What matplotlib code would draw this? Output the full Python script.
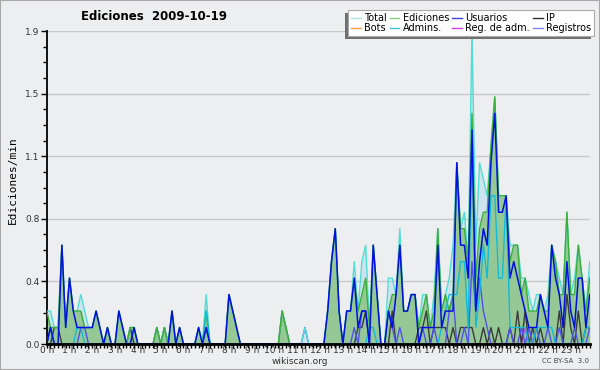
import numpy as np
import matplotlib
matplotlib.use('Agg')
import matplotlib.pyplot as plt
from matplotlib.transforms import IdentityTransform
from matplotlib.ticker import FixedLocator, MultipleLocator

# 10-minute bins over the day (144 bins), values in edits/min
hour_labels = ['%d h' % h for h in range(24)]

total = [0.2, 0.2, 0.1, 0.1, 0.6, 0.1, 0.4, 0.2, 0.2, 0.3, 0.2, 0.1,
         0.1, 0.2, 0.1, 0.0, 0.1, 0.0, 0.0, 0.2, 0.1, 0.0, 0.1, 0.1,
         0.0, 0.0, 0.0, 0.0, 0.0, 0.1, 0.0, 0.1, 0.0, 0.2, 0.0, 0.1,
         0.0, 0.0, 0.0, 0.0, 0.1, 0.0, 0.3, 0.0, 0.0, 0.0, 0.0, 0.0,
         0.3, 0.2, 0.1, 0.0, 0.0, 0.0, 0.0, 0.0, 0.0, 0.0, 0.0, 0.0,
         0.0, 0.0, 0.2, 0.1, 0.0, 0.0, 0.0, 0.0, 0.1, 0.0, 0.0, 0.0,
         0.0, 0.0, 0.2, 0.5, 0.7, 0.2, 0.0, 0.2, 0.2, 0.5, 0.2, 0.5,
         0.6, 0.1, 0.6, 0.3, 0.0, 0.0, 0.4, 0.4, 0.3, 0.7, 0.2, 0.2,
         0.3, 0.3, 0.1, 0.3, 0.3, 0.1, 0.3, 0.7, 0.2, 0.3, 0.4, 0.6,
         1.1, 0.7, 0.8, 0.5, 1.9, 0.6, 1.1, 1.0, 0.9, 1.2, 1.5, 0.9,
         0.9, 0.9, 0.6, 0.6, 0.6, 0.4, 0.4, 0.3, 0.2, 0.3, 0.3, 0.2,
         0.3, 0.6, 0.5, 0.4, 0.3, 0.8, 0.3, 0.4, 0.6, 0.4, 0.2, 0.5]

ediciones = [0.2, 0.1, 0.1, 0.1, 0.6, 0.1, 0.4, 0.2, 0.2, 0.2, 0.1, 0.1,
             0.1, 0.2, 0.1, 0.0, 0.1, 0.0, 0.0, 0.2, 0.1, 0.0, 0.1, 0.1,
             0.0, 0.0, 0.0, 0.0, 0.0, 0.1, 0.0, 0.1, 0.0, 0.2, 0.0, 0.1,
             0.0, 0.0, 0.0, 0.0, 0.1, 0.0, 0.2, 0.0, 0.0, 0.0, 0.0, 0.0,
             0.3, 0.2, 0.1, 0.0, 0.0, 0.0, 0.0, 0.0, 0.0, 0.0, 0.0, 0.0,
             0.0, 0.0, 0.2, 0.1, 0.0, 0.0, 0.0, 0.0, 0.0, 0.0, 0.0, 0.0,
             0.0, 0.0, 0.2, 0.5, 0.7, 0.2, 0.0, 0.2, 0.2, 0.4, 0.2, 0.3,
             0.4, 0.1, 0.6, 0.3, 0.0, 0.0, 0.2, 0.3, 0.3, 0.6, 0.2, 0.2,
             0.3, 0.3, 0.1, 0.2, 0.3, 0.1, 0.2, 0.7, 0.2, 0.3, 0.2, 0.3,
             1.1, 0.7, 0.7, 0.5, 1.4, 0.4, 0.7, 0.8, 0.8, 1.2, 1.5, 0.9,
             0.9, 0.9, 0.5, 0.6, 0.6, 0.3, 0.4, 0.2, 0.2, 0.2, 0.3, 0.2,
             0.2, 0.6, 0.5, 0.3, 0.3, 0.8, 0.3, 0.3, 0.6, 0.4, 0.2, 0.4]

usuarios = [0.0, 0.1, 0.0, 0.0, 0.6, 0.1, 0.4, 0.2, 0.1, 0.1, 0.1, 0.1,
            0.1, 0.2, 0.1, 0.0, 0.1, 0.0, 0.0, 0.2, 0.1, 0.0, 0.0, 0.1,
            0.0, 0.0, 0.0, 0.0, 0.0, 0.0, 0.0, 0.0, 0.0, 0.2, 0.0, 0.1,
            0.0, 0.0, 0.0, 0.0, 0.1, 0.0, 0.1, 0.0, 0.0, 0.0, 0.0, 0.0,
            0.3, 0.2, 0.1, 0.0, 0.0, 0.0, 0.0, 0.0, 0.0, 0.0, 0.0, 0.0,
            0.0, 0.0, 0.0, 0.0, 0.0, 0.0, 0.0, 0.0, 0.0, 0.0, 0.0, 0.0,
            0.0, 0.0, 0.2, 0.5, 0.7, 0.2, 0.0, 0.2, 0.2, 0.4, 0.1, 0.2,
            0.2, 0.0, 0.6, 0.3, 0.0, 0.0, 0.2, 0.1, 0.3, 0.6, 0.2, 0.2,
            0.3, 0.3, 0.0, 0.1, 0.1, 0.1, 0.1, 0.6, 0.1, 0.2, 0.2, 0.2,
            1.1, 0.6, 0.6, 0.4, 1.3, 0.2, 0.5, 0.7, 0.6, 1.1, 1.4, 0.8,
            0.8, 0.9, 0.4, 0.5, 0.4, 0.3, 0.2, 0.1, 0.1, 0.1, 0.3, 0.2,
            0.1, 0.6, 0.4, 0.3, 0.1, 0.5, 0.2, 0.1, 0.4, 0.4, 0.1, 0.3]

ip = [0.0, 0.0, 0.1, 0.1, 0.0, 0.0, 0.0, 0.0, 0.0, 0.0, 0.0, 0.0,
      0.0, 0.0, 0.0, 0.0, 0.0, 0.0, 0.0, 0.0, 0.0, 0.0, 0.1, 0.0,
      0.0, 0.0, 0.0, 0.0, 0.0, 0.1, 0.0, 0.1, 0.0, 0.0, 0.0, 0.0,
      0.0, 0.0, 0.0, 0.0, 0.0, 0.0, 0.0, 0.0, 0.0, 0.0, 0.0, 0.0,
      0.0, 0.0, 0.0, 0.0, 0.0, 0.0, 0.0, 0.0, 0.0, 0.0, 0.0, 0.0,
      0.0, 0.0, 0.2, 0.1, 0.0, 0.0, 0.0, 0.0, 0.0, 0.0, 0.0, 0.0,
      0.0, 0.0, 0.0, 0.0, 0.0, 0.0, 0.0, 0.0, 0.0, 0.0, 0.1, 0.1,
      0.2, 0.0, 0.0, 0.0, 0.0, 0.0, 0.0, 0.2, 0.0, 0.0, 0.0, 0.0,
      0.0, 0.0, 0.1, 0.1, 0.2, 0.0, 0.1, 0.1, 0.1, 0.1, 0.0, 0.1,
      0.0, 0.1, 0.1, 0.1, 0.1, 0.0, 0.0, 0.1, 0.0, 0.1, 0.0, 0.1,
      0.0, 0.0, 0.1, 0.0, 0.2, 0.0, 0.2, 0.0, 0.1, 0.0, 0.1, 0.0,
      0.0, 0.0, 0.0, 0.2, 0.0, 0.3, 0.1, 0.0, 0.2, 0.0, 0.1, 0.1]

admins = [0.0, 0.0, 0.0, 0.0, 0.0, 0.0, 0.0, 0.0, 0.1, 0.1, 0.0, 0.0,
          0.0, 0.0, 0.0, 0.0, 0.0, 0.0, 0.0, 0.0, 0.0, 0.0, 0.0, 0.0,
          0.0, 0.0, 0.0, 0.0, 0.0, 0.0, 0.0, 0.0, 0.0, 0.0, 0.0, 0.0,
          0.0, 0.0, 0.0, 0.0, 0.0, 0.0, 0.2, 0.0, 0.0, 0.0, 0.0, 0.0,
          0.0, 0.0, 0.0, 0.0, 0.0, 0.0, 0.0, 0.0, 0.0, 0.0, 0.0, 0.0,
          0.0, 0.0, 0.0, 0.0, 0.0, 0.0, 0.0, 0.0, 0.0, 0.0, 0.0, 0.0,
          0.0, 0.0, 0.0, 0.0, 0.0, 0.0, 0.0, 0.0, 0.0, 0.0, 0.0, 0.0,
          0.0, 0.1, 0.1, 0.0, 0.0, 0.0, 0.0, 0.0, 0.0, 0.0, 0.0, 0.0,
          0.0, 0.0, 0.0, 0.0, 0.0, 0.0, 0.0, 0.0, 0.1, 0.2, 0.3, 0.3,
          0.3, 0.5, 0.5, 0.1, 1.3, 0.1, 0.3, 0.6, 0.4, 0.9, 0.9, 0.4,
          0.4, 0.9, 0.1, 0.1, 0.1, 0.1, 0.1, 0.0, 0.0, 0.1, 0.1, 0.1,
          0.1, 0.1, 0.0, 0.0, 0.0, 0.0, 0.0, 0.0, 0.0, 0.0, 0.1, 0.1]

registros = [0.0, 0.1, 0.0, 0.0, 0.0, 0.0, 0.0, 0.0, 0.0, 0.1, 0.1, 0.0,
             0.0, 0.0, 0.0, 0.0, 0.0, 0.0, 0.0, 0.0, 0.0, 0.0, 0.0, 0.0,
             0.0, 0.0, 0.0, 0.0, 0.0, 0.0, 0.0, 0.0, 0.0, 0.0, 0.0, 0.0,
             0.0, 0.0, 0.0, 0.0, 0.0, 0.0, 0.1, 0.0, 0.0, 0.0, 0.0, 0.0,
             0.0, 0.0, 0.0, 0.0, 0.0, 0.0, 0.0, 0.0, 0.0, 0.0, 0.0, 0.0,
             0.0, 0.0, 0.0, 0.0, 0.0, 0.0, 0.0, 0.0, 0.1, 0.0, 0.0, 0.0,
             0.0, 0.0, 0.0, 0.0, 0.0, 0.0, 0.0, 0.0, 0.0, 0.1, 0.0, 0.2,
             0.2, 0.0, 0.0, 0.0, 0.0, 0.0, 0.2, 0.1, 0.0, 0.1, 0.0, 0.0,
             0.0, 0.0, 0.0, 0.1, 0.0, 0.0, 0.1, 0.0, 0.0, 0.0, 0.2, 0.3,
             0.0, 0.0, 0.1, 0.0, 0.5, 0.2, 0.4, 0.2, 0.1, 0.0, 0.0, 0.0,
             0.0, 0.0, 0.1, 0.0, 0.0, 0.1, 0.0, 0.1, 0.0, 0.1, 0.0, 0.0,
             0.1, 0.0, 0.0, 0.1, 0.0, 0.0, 0.0, 0.1, 0.0, 0.0, 0.0, 0.1]

reg_adm = [0.0] * 126 + [0.1] + [0.0] * 17
bots = [0.0] * 144

BG = '#edeef0'

fig = plt.figure(figsize=(6, 3.7), dpi=100, facecolor=BG)
fig.patches.append(plt.Rectangle((0, 0), 1, 1, transform=fig.transFigure,
                                 fill=False, edgecolor='#a8a8a8', lw=1.5))
ax = fig.add_axes([46.7 / 600, 26 / 370, 543 / 600, 313 / 370], facecolor=BG)

x = np.arange(len(total))

ax.fill_between(x, total, color='#cfe3ee', lw=0, zorder=1)
ax.fill_between(x, ediciones, color='#96c896', lw=0, zorder=2)
ax.plot(x, bots, color='#f0a040', lw=1, zorder=3)
ax.plot(x, reg_adm, color='#d040e0', lw=1, zorder=3)
ax.plot(x, ip, color='#3a3a3a', lw=1, zorder=4)
ax.plot(x, registros, color='#5050f0', lw=1, zorder=4)
ax.plot(x, total, color='#50ddd4', lw=1, zorder=5)
ax.plot(x, ediciones, color='#38b038', lw=1, zorder=5)
ax.plot(x, admins, color='#10bcd8', lw=1, zorder=6)
ax.plot(x, usuarios, color='#0010e0', lw=1.1, zorder=7)

ax.set_xlim(0, 143)
ax.set_ylim(0, 1.9)

yt = np.linspace(0, 1.9, 6)
ax.yaxis.set_major_locator(FixedLocator(yt))
ax.yaxis.set_minor_locator(FixedLocator(np.linspace(0, 1.9, 21)))
ax.set_yticklabels(['%.1f' % v for v in yt])
ax.grid(axis='y', color='#c8c8c8', lw=1, zorder=0)

ax.xaxis.set_major_locator(FixedLocator(np.arange(0, 144, 6)))
ax.xaxis.set_minor_locator(MultipleLocator(1))
ax.set_xticklabels(hour_labels)

ax.tick_params(axis='both', which='both', direction='out', colors='black',
               labelcolor='#333333', labelsize=6.5, width=1)
ax.tick_params(axis='y', which='major', length=4, pad=1)
ax.tick_params(axis='y', which='minor', length=3)
ax.tick_params(axis='x', which='both', length=3, pad=-1.5)

for s in ['top', 'right']:
    ax.spines[s].set_visible(False)
ax.spines['left'].set_linewidth(1.3)
ax.spines['bottom'].set_linewidth(2)
ax.spines['bottom'].set_zorder(10)

fig.text(154 / 600, 1 - 17 / 370, 'Ediciones  2009-10-19', ha='center', va='center',
         fontsize=8.5, fontweight='bold')
fig.text(13 / 600, 1 - 180 / 370, 'Ediciones/min', rotation=90, ha='center', va='center',
         fontsize=8, family='DejaVu Sans Mono')
fig.text(300 / 600, 1 - 362 / 370, 'wikiscan.org', ha='center', va='center',
         fontsize=6.5, color='#333333')
fig.text(566 / 600, 1 - 361 / 370, 'CC BY-SA  3.0', ha='center', va='center',
         fontsize=5, color='#444444')

names = ['Total', 'Bots', 'Ediciones', 'Admins.', 'Usuarios', 'Reg. de adm.', 'IP', 'Registros']
colors = ['#a8e4e4', '#f0a040', '#80d080', '#40c8d8', '#4040e0', '#d040e0', '#303030', '#8080f0']
handles = [plt.Line2D([], [], color=c, lw=1) for c in colors]
leg = fig.legend(handles, names, ncol=4, loc='upper right',
                 bbox_to_anchor=(594 / 600, 1 - 10 / 370), borderaxespad=0,
                 fontsize=7, handlelength=1.0, handletextpad=0.35, columnspacing=0.3,
                 labelspacing=0.05, borderpad=0.3, fancybox=False,
                 framealpha=1, edgecolor='#aaaaaa')
leg.get_frame().set_linewidth(0.8)

# shadow to the lower left of the legend box (pixel offsets)
fig.canvas.draw()
bb = leg.get_window_extent()
fig.patches.append(plt.Rectangle((bb.x0 - 3, bb.y0 - 3), bb.width, bb.height,
                                 transform=IdentityTransform(), facecolor='#707070',
                                 edgecolor='none', zorder=leg.get_zorder() - 0.5))

fig.savefig('out.png', dpi=100, facecolor=BG)
